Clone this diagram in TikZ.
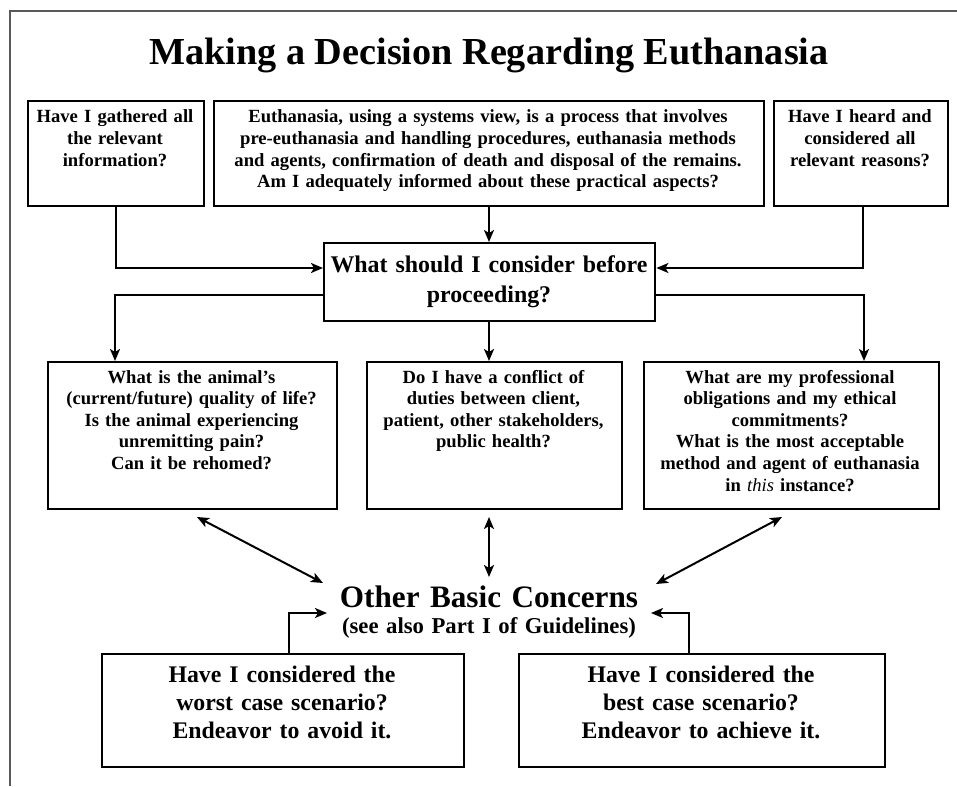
\documentclass[tikz,border=0pt]{standalone}
\usepackage{fontspec}
\setmainfont{Liberation Serif}
\usetikzlibrary{arrows.meta}
\begin{document}
\begin{tikzpicture}[x=1pt,y=-1pt,
  boxs/.style={draw, line width=2.4pt, inner sep=0pt, anchor=north west},
  txt/.style={align=center, inner sep=0pt, anchor=base, font=\bfseries},
  small/.style={txt, font=\fontsize{18.6}{21.6}\selectfont\bfseries},
  arr/.style={line width=2pt, -{Stealth[length=12pt,width=10pt,inset=3pt]}},
  darr/.style={line width=2pt, {Stealth[length=12pt,width=10pt,inset=3pt]}-{Stealth[length=12pt,width=10pt,inset=3pt]}},
  frame/.style={draw=black!65, line width=1.5pt}]
\useasboundingbox (0,0) rectangle (957,786);
\draw[frame] (10,786) -- (10,11) -- (957,11);

% title
\node[txt, font=\fontsize{38.2}{40}\selectfont\bfseries] (title) at (489,65) {Making a Decision Regarding Euthanasia};

% top row
\node[boxs, minimum width=176pt, minimum height=105pt] (b1) at (27,100) {};
\node[boxs, minimum width=550pt, minimum height=105pt] (b2) at (213,100) {};
\node[boxs, minimum width=174pt, minimum height=105pt] (b3) at (773,100) {};
\node[small, text width=176pt] (t1) at (115,123) {Have I gathered all\\the relevant\\information?};
\node[small, text width=550pt] (t2) at (488,123) {Euthanasia, using a systems view, is a process that involves\\pre-euthanasia and handling procedures, euthanasia methods\\and agents, confirmation of death and disposal of the remains.\\Am I adequately informed about these practical aspects?};
\node[small, text width=174pt] (t3) at (860,123) {Have I heard and\\considered all\\relevant reasons?};

% centre
\node[boxs, minimum width=331pt, minimum height=78pt] (c) at (323,242) {};
\node[txt, text width=331pt, font=\fontsize{23.9}{30}\selectfont\bfseries] (tc) at (489,272) {What should I consider before\\proceeding?};

% middle row
\node[boxs, minimum width=289pt, minimum height=147pt] (b4) at (47,361) {};
\node[boxs, minimum width=255pt, minimum height=147pt] (b5) at (366,361) {};
\node[boxs, minimum width=295pt, minimum height=147pt] (b6) at (643,361) {};
\node[small, text width=289pt] (t4) at (191.5,383) {What is the animal's\\(current/future) quality of life?\\Is the animal experiencing\\unremitting pain?\\Can it be rehomed?};
\node[small, text width=255pt] (t5) at (493.5,383) {Do I have a conflict of\\duties between client,\\patient, other stakeholders,\\public health?};
\node[small, text width=295pt] (t6) at (790,383) {What are my professional\\obligations and my ethical\\commitments?\\What is the most acceptable\\method and agent of euthanasia\\in {\mdseries\itshape this} instance?};

% other basic concerns
\node[txt, text width=320pt, font=\fontsize{31.2}{32}\selectfont\bfseries] (other) at (489,607) {Other Basic Concerns};
\node[txt, text width=320pt, font=\fontsize{22.7}{24}\selectfont\bfseries] (sub) at (489,633) {(see also Part I of Guidelines)};

% bottom row
\node[boxs, minimum width=362pt, minimum height=113pt] (b7) at (101,653) {};
\node[boxs, minimum width=366pt, minimum height=113pt] (b8) at (518,653) {};
\node[txt, text width=362pt, font=\fontsize{23.8}{28}\selectfont\bfseries] (t7) at (282,682) {Have I considered the\\worst case scenario?\\Endeavor to avoid it.};
\node[txt, text width=366pt, font=\fontsize{23.8}{28}\selectfont\bfseries] (t8) at (701,682) {Have I considered the\\best case scenario?\\Endeavor to achieve it.};

% bend coordinates
\coordinate (k1) at (116,268);
\coordinate (k3) at (863,268);
\coordinate (k4) at (115,295);
\coordinate (k6) at (864,295);
\coordinate (m) at (489,0);
\coordinate (k7) at (289,613);
\coordinate (k8) at (689,613);
\coordinate (oL) at (323,583);
\coordinate (oM) at (489,577);
\coordinate (oR) at (656,584);
\coordinate (eL) at (327,613);
\coordinate (eR) at (651,613);
\coordinate (s4) at (197,517);
\coordinate (s5) at (489,517);
\coordinate (s6) at (782,517);

% connectors
\draw[arr] (b1.south -| k1) -- (k1) -- (c.west |- k1);
\draw[arr] (b2.south -| m) -- (c.north -| m);
\draw[arr] (b3.south -| k3) -- (k3) -- (c.east |- k3);
\draw[arr] (c.west |- k4) -- (k4) -- (b4.north -| k4);
\draw[arr] (c.south -| m) -- (b5.north -| m);
\draw[arr] (c.east |- k6) -- (k6) -- (b6.north -| k6);

\draw[darr] (s4) -- (oL);
\draw[darr] (s5) -- (oM);
\draw[darr] (s6) -- (oR);

\draw[arr] (b7.north -| k7) -- (k7) -- (eL);
\draw[arr] (b8.north -| k8) -- (k8) -- (eR);
\end{tikzpicture}
\end{document}
